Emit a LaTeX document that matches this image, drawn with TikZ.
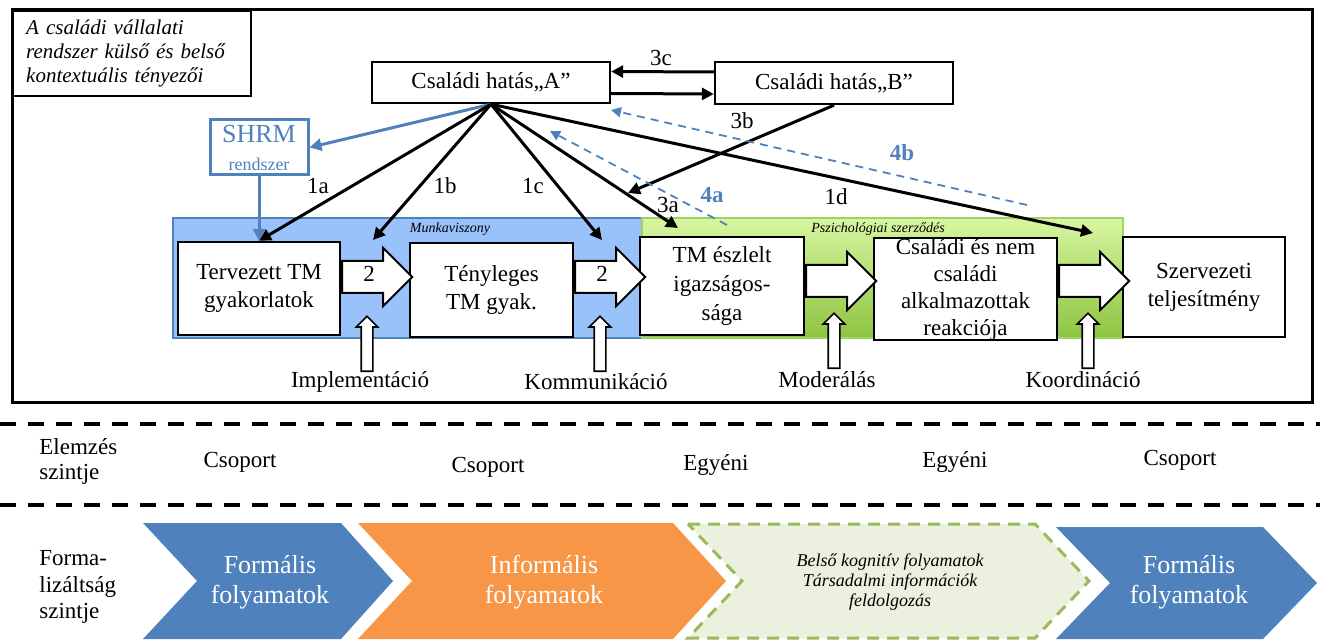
\documentclass[tikz,border=0pt]{standalone}
\usepackage{fontspec}
\setmainfont{Liberation Serif}
\usetikzlibrary{arrows.meta,shapes.arrows}
\definecolor{kek}{RGB}{79,129,189}
\definecolor{munkakek}{RGB}{153,194,250}
\definecolor{zoldfent}{RGB}{216,246,162}
\definecolor{zoldlent}{RGB}{141,196,64}
\definecolor{zoldszel}{RGB}{160,210,100}
\definecolor{narancs}{RGB}{247,150,70}
\definecolor{halvanyzold}{RGB}{235,241,222}
\definecolor{olivzold}{RGB}{155,187,89}

\tikzset{
  doboz/.style={draw, line width=1.2pt, fill=white, align=center, inner sep=0pt, font=\fontsize{11.5}{14}\selectfont},
  nyil/.style={line width=1.5pt, -{Triangle[length=6pt,width=6pt]}},
  kekvonal/.style={kek, line width=1.5pt, -{Triangle[length=6pt,width=6pt]}},
  szaggatott/.style={kek, line width=0.9pt, dash pattern=on 4pt off 3pt, -{Triangle[length=5pt,width=5pt]}},
  blokknyil/.style={single arrow, draw, line width=1pt, fill=white, anchor=tail, single arrow head extend=6.5pt, single arrow tip angle=90, text height=5pt, text depth=0pt, inner ysep=5pt, inner xsep=7.5pt, minimum height=35pt, font=\fontsize{11.5}{14}\selectfont},
  felnyil/.style={single arrow, draw, line width=0.8pt, fill=white, anchor=tail, shape border rotate=90, single arrow head extend=2.5pt, single arrow tip angle=90, text height=0pt, text depth=0pt, inner ysep=2.5pt, inner xsep=2.5pt, minimum height=27.5pt},
  cimke/.style={inner sep=1pt, font=\fontsize{11.5}{14}\selectfont},
  hatter/.style={inner sep=0pt, font=\fontsize{7}{8}\selectfont\itshape},
  kiemelt/.style={inner sep=1pt, text=kek, font=\fontsize{11.5}{14}\selectfont\bfseries},
  elvalaszto/.style={line width=2pt, dash pattern=on 8pt off 6pt},
  nyilszoveg/.style={align=center, text=white, font=\fontsize{13}{15}\selectfont}
}

\begin{document}
\begin{tikzpicture}[x=0.5pt,y=-0.5pt]
\useasboundingbox (0,0) rectangle (1320,641);

\draw[line width=1.5pt] (12,10) rectangle (1312,402);
\draw[kek, line width=0.6pt, fill=munkakek] (173,218) rectangle (642,338);
\draw[zoldszel, line width=0.6pt, top color=zoldfent, bottom color=zoldlent] (642,218) rectangle (1123,338);
\node[hatter] (munka) at (450,229) {Munkaviszony};
\node[hatter] (pszich) at (878,229) {Pszichológiai szerződés};

\node[doboz, anchor=north west, align=left, minimum width=119pt, minimum height=42.5pt, text width=106pt, inner xsep=6.5pt, font=\fontsize{10.5}{12}\selectfont\itshape] (kontextus) at (12,10) {A családi vállalati\\rendszer külső és belső\\kontextuális tényezői};

\node[doboz, minimum width=119pt, minimum height=20.5pt] (hatasA) at (491,82.5) {Családi hatás„A”};
\node[doboz, minimum width=119pt, minimum height=21pt] (hatasB) at (834,83) {Családi hatás„B”};
\node[doboz, draw=kek, line width=1.5pt, text=kek, minimum width=49pt, minimum height=27.5pt] (shrm) at (259,147.5) {{\fontsize{13}{13}\selectfont SHRM}\\{\fontsize{9}{10}\selectfont rendszer}};

\node[doboz, minimum width=81pt, minimum height=46.5pt] (tervezett) at (259,288.5) {Tervezett TM\\gyakorlatok};
\node[doboz, minimum width=81.5pt, minimum height=47pt] (tenyleges) at (491.5,290) {Tényleges\\TM gyak.};
\node[doboz, minimum width=82pt, minimum height=49pt, font=\fontsize{11.5}{14.5}\selectfont] (eszlelt) at (722,286) {TM észlelt\\igazságos-\\sága};
\node[doboz, minimum width=91.5pt, minimum height=50pt, font=\fontsize{11.5}{13.5}\selectfont] (reakcio) at (965.5,289) {Családi és nem\\családi\\alkalmazottak\\reakciója};
\node[doboz, minimum width=81pt, minimum height=50pt] (teljesitmeny) at (1204,287) {Szervezeti\\teljesítmény};

\node[blokknyil] (ny1) at (tervezett.east |- 0,277) {2};
\node[blokknyil] (ny2) at (tenyleges.east |- 0,277) {2};
\node[blokknyil] (ny3) at (eszlelt.east |- 0,281) {\phantom{2}};
\node[blokknyil] (ny4) at (reakcio.east |- 0,281) {\phantom{2}};

\node[cimke] (impl) at (360,382) {Implementáció};
\node[cimke] (komm) at (596,382) {Kommunikáció};
\node[cimke] (moder) at (827,380) {Moderálás};
\node[cimke] (koord) at (1083,380) {Koordináció};
\node[felnyil] (fel1) at (367,372) {};
\node[felnyil] (fel2) at (600,372) {};
\node[felnyil] (fel3) at (834,369) {};
\node[felnyil] (fel4) at (1088,369) {};

\coordinate (c1b) at (373,240);
\coordinate (c1c) at (602,240);
\coordinate (c3a) at (678,228);
\coordinate (c3b) at (628,193);
\coordinate (c1d) at (1093,233);
\coordinate (c4a) at (727,225);
\coordinate (c4ab) at (550,131);
\coordinate (c4b) at (1027,205);
\coordinate (c4bb) at (611,110);

\draw[kekvonal] (hatasA.south) -- (shrm.east);
\draw[kekvonal] (shrm.south) -- (tervezett.north);
\draw[nyil] (hatasA.south) -- (tervezett.north);
\draw[nyil] (hatasA.south) -- (c1b);
\draw[nyil] (hatasA.south) -- (c1c);
\draw[nyil] (hatasA.south) -- (c3a);
\draw[nyil] (hatasA.south) -- (c1d);
\draw[nyil] (hatasB.south) -- (c3b);
\draw[nyil] ([yshift=5.5pt]hatasB.west) -- ([yshift=5.5pt]hatasA.east);
\draw[nyil] ([yshift=-5.5pt]hatasA.east) -- ([yshift=-5.5pt]hatasB.west);
\draw[szaggatott] (c4a) -- (c4ab);
\draw[szaggatott] (c4b) -- (c4bb);

\node[cimke] (l3c) at (661,58) {3c};
\node[cimke] (l1a) at (318,186) {1a};
\node[cimke] (l1b) at (445,186) {1b};
\node[cimke] (l1c) at (533,186) {1c};
\node[cimke] (l3a) at (668,205) {3a};
\node[cimke] (l3b) at (742,121) {3b};
\node[cimke] (l1d) at (836,197) {1d};
\node[kiemelt] (l4a) at (712,195) {4a};
\node[kiemelt] (l4b) at (902,153) {4b};

\draw[elvalaszto] (0,424) -- (1320,424);
\draw[elvalaszto] (0,505) -- (1320,505);

\node[cimke, anchor=west, align=left, font=\fontsize{11.5}{12.5}\selectfont] (elemzes) at (37,461) {Elemzés\\szintje};
\node[cimke] (sz1) at (240,462) {Csoport};
\node[cimke] (sz2) at (488,467) {Csoport};
\node[cimke] (sz3) at (716,465) {Egyéni};
\node[cimke] (sz4) at (955,462) {Egyéni};
\node[cimke] (sz5) at (1180,460) {Csoport};
\node[cimke, anchor=west, align=left, font=\fontsize{11.5}{13.2}\selectfont] (formalizaltsag) at (37,587) {Forma-\\lizáltság\\szintje};

\fill[kek] (143,523) -- (341,523) -- (393,581) -- (341,639) -- (143,639) -- (197,581) -- cycle;
\fill[narancs] (358,523) -- (673,523) -- (726,581) -- (673,639) -- (358,639) -- (412,581) -- cycle;
\draw[olivzold, fill=halvanyzold, line width=1.5pt, dash pattern=on 6pt off 4pt] (688,524) -- (1035,524) -- (1089,581) -- (1035,638) -- (688,638) -- (742,581) -- cycle;
\fill[kek] (1056,527) -- (1263,527) -- (1317,583) -- (1263,639) -- (1056,639) -- (1110,583) -- cycle;
\node[nyilszoveg] (formalis1) at (270,582) {Formális\\folyamatok};
\node[nyilszoveg] (informalis) at (544,582) {Informális\\folyamatok};
\node[align=center, font=\fontsize{9}{9.8}\selectfont\itshape] (kognitiv) at (890,582) {Belső kognitív folyamatok\\Társadalmi információk\\feldolgozás};
\node[nyilszoveg] (formalis2) at (1189,582) {Formális\\folyamatok};
\end{tikzpicture}
\end{document}
